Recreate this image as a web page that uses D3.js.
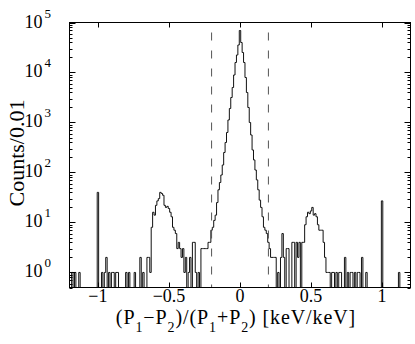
<!DOCTYPE html>
<html><head><meta charset="utf-8">
<script src="https://cdn.jsdelivr.net/npm/d3@7"></script>
<style>
body{margin:0;background:#fff}
svg{display:block}
text{font-family:"Liberation Serif","Times New Roman",serif;fill:#000}
</style>
</head><body>
<svg id="c" width="415" height="344"></svg>
<script>
// histogram: bins of width 0.01 centred on -1.19 ... 1.19
const binStart = -1.195;
const binWidth = 0.01;
const counts = [
  0,1,0,1,0,0,1,0,0,0,0,0,0,0,0,0,0,0,0,40,
  0,0,1,0,1,2,0,1,0,1,1,0,1,1,0,0,0,0,0,1,
  0,1,0,0,0,1,0,0,0,2,0,1,0,0,2,2,1,8,16,14,
  22,27,30,40,38,35,22,20,21,19,16,13,8,7,6,3,4,3,2,3,
  1,2,0,1,2,0,4,4,1,0,1,0,3,3,3,3,3,4,4,7,
  8,11,14,25,45,63,89,141,251,398,631,1122,1905,3162,5012,8913,15849,22387,35481,69183,
  39811,25119,15849,7943,3981,1995,1000,562,282,178,112,71,45,28,20,13,8,7,6,4,
  3,2,2,2,2,0,1,0,2,6,2,0,3,3,0,0,4,4,0,4,
  2,4,0,4,4,9,13,16,15,17,20,14,15,13,9,7,7,7,4,2,
  1,1,1,0,1,1,0,1,0,1,1,0,0,2,0,1,0,1,1,0,
  1,0,1,1,0,2,0,0,1,0,0,0,0,0,0,0,0,0,0,27,
  0,0,0,0,0,0,0,0,0,0,0,1,0,0,0,0,0,0,0
];
const xTicks = [-1, -0.5, 0, 0.5, 1];
const xTickLabels = ["\u22121", "\u22120.5", "0", "0.5", "1"];
const yDecades = [0, 1, 2, 3, 4, 5];
const cutLines = [-0.2, 0.2];

const L = 69.5, R = 410.5, T = 22.5, B = 287.5;
const svg = d3.select("#c");
const x = d3.scaleLinear().domain([-1.2, 1.2]).range([L, R]);
const y = d3.scaleLog().domain([0.5, 1e5]).range([B, T]);

svg.append("defs").append("clipPath").attr("id", "clip")
  .append("rect").attr("x", L).attr("y", T).attr("width", R - L).attr("height", B - T);

// histogram step outline
const pts = [];
counts.forEach((v, i) => {
  const lo = binStart + i * binWidth, hi = lo + binWidth;
  const yy = v > 0 ? y(v) : B + 10;
  pts.push([x(lo), yy], [x(hi), yy]);
});
pts.unshift([pts[0][0], B + 10]);
pts.push([pts[pts.length - 1][0], B + 10]);
svg.append("path").attr("clip-path", "url(#clip)")
  .attr("d", d3.line()(pts))
  .attr("fill", "none").attr("stroke", "#111").attr("stroke-width", 1);

// dashed cut lines
svg.selectAll(".cut").data(cutLines).enter().append("line")
  .attr("x1", d => x(d)).attr("x2", d => x(d))
  .attr("y1", T).attr("y2", B)
  .attr("stroke", "#555").attr("stroke-width", 1)
  .attr("stroke-dasharray", "8,10").attr("stroke-dashoffset", 8);

// frame
svg.append("rect").attr("x", L).attr("y", T).attr("width", R - L).attr("height", B - T)
  .attr("fill", "none").attr("stroke", "#000").attr("stroke-width", 1);

// x ticks (inward, top & bottom)
const g = svg.append("g").attr("stroke", "#000").attr("stroke-width", 1);
xTicks.forEach(t => {
  const px = Math.round(x(t)) + 0.5;
  g.append("line").attr("x1", px).attr("x2", px).attr("y1", B).attr("y2", B - 5);
  g.append("line").attr("x1", px).attr("x2", px).attr("y1", T).attr("y2", T + 5);
});
svg.selectAll(".xl").data(xTicks).enter().append("text")
  .attr("x", d => x(d)).attr("y", 302).attr("text-anchor", "middle")
  .attr("font-size", 18).text((d, i) => xTickLabels[i]);

// y ticks (major + minor, inward, left & right)
yDecades.forEach(e => {
  const py = Math.round(y(Math.pow(10, e))) + 0.5;
  g.append("line").attr("x1", L).attr("x2", L + 6).attr("y1", py).attr("y2", py);
  g.append("line").attr("x1", R).attr("x2", R - 6).attr("y1", py).attr("y2", py);
});
for (let e = -1; e <= 4; e++) {
  for (let m = 2; m <= 9; m++) {
    const v = m * Math.pow(10, e);
    if (v < 0.5 || v > 1e5) continue;
    const py = Math.round(y(v)) + 0.5;
    g.append("line").attr("x1", L).attr("x2", L + 3).attr("y1", py).attr("y2", py);
    g.append("line").attr("x1", R).attr("x2", R - 3).attr("y1", py).attr("y2", py);
  }
}
yDecades.forEach(e => {
  const py = y(Math.pow(10, e));
  svg.append("text").attr("x", 42.5).attr("y", py + 5).attr("text-anchor", "end")
    .attr("font-size", 18).text("10");
  svg.append("text").attr("x", 44.5).attr("y", py - 5).attr("text-anchor", "start")
    .attr("font-size", 13).text(String(e));
});

// axis titles
const xt = svg.append("text").attr("x", 236).attr("y", 324).attr("text-anchor", "middle")
  .attr("font-size", 20).attr("letter-spacing", "0.9px");
const parts = [["(P", 0], ["1", 1], ["\u2212P", 0], ["2", 1], [")/(P", 0], ["1", 1], ["+P", 0], ["2", 1], [") [keV/keV]", 0]];
let sub = 0;
parts.forEach(([s, isSub]) => {
  const ts = xt.append("tspan").text(s);
  if (isSub) { ts.attr("font-size", 14).attr("dy", 8); sub = 1; }
  else if (sub) { ts.attr("dy", -8); sub = 0; }
});
svg.append("text").attr("transform", "translate(24,153) rotate(-90)")
  .attr("text-anchor", "middle").attr("font-size", 22).text("Counts/0.01");
</script>
</body></html>
